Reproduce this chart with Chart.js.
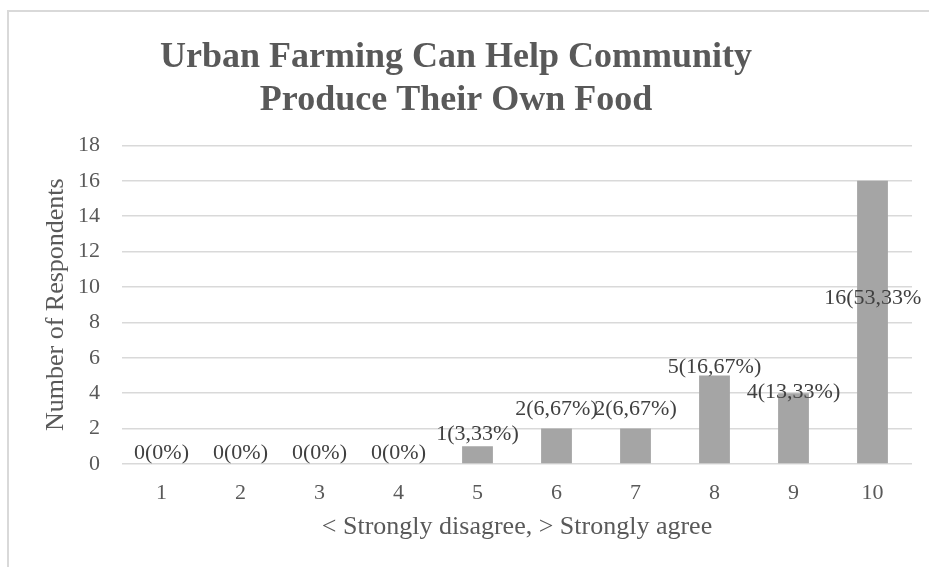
<!DOCTYPE html>
<html>
<head>
<meta charset="utf-8">
<script src="https://cdn.jsdelivr.net/npm/chart.js@4.4.1/dist/chart.umd.min.js"></script>
<style>
  html, body { margin: 0; padding: 0; background: #fff; }
  canvas { display: block; }
</style>
</head>
<body>
<canvas id="mycanvas" width="929" height="567"></canvas>
<script>
// survey scale 1..10 and how many respondents picked each
var scores = ["1", "2", "3", "4", "5", "6", "7", "8", "9", "10"];
var respondents = [0, 0, 0, 0, 1, 2, 2, 5, 4, 16];
var yMax = 18;
var yStep = 2;

var chartTitle = ["Urban Farming Can Help Community", "Produce Their Own Food"];
var xTitle = "< Strongly disagree, > Strongly agree";
var yTitle = "Number of Respondents";

var total = respondents.reduce(function(a, b){ return a + b; }, 0);
function pctText(n){
  if (n === 0) return "0%";
  return (n / total * 100).toFixed(2).replace(".", ",") + "%";
}

var serif = "'Liberation Serif', 'Times New Roman', serif";

// light frame around the chart
var framePlugin = {
  id: 'frame',
  beforeDraw: function(chart){
    var ctx = chart.ctx;
    ctx.save();
    ctx.fillStyle = '#fff';
    ctx.fillRect(0, 0, chart.width, chart.height);
    ctx.strokeStyle = '#d9d9d9';
    ctx.lineWidth = 2;
    ctx.beginPath();
    ctx.moveTo(8, chart.height);
    ctx.lineTo(8, 11);
    ctx.lineTo(chart.width, 11);
    ctx.stroke();
    ctx.restore();
  }
};

// "count(percent)" labels over the bars
var valueLabels = {
  id: 'valueLabels',
  afterDatasetsDraw: function(chart, args, opts){
    var ctx = chart.ctx;
    var meta = chart.getDatasetMeta(0);
    ctx.save();
    ctx.beginPath();
    ctx.rect(0, 0, opts.clipRight, chart.height);
    ctx.clip();
    ctx.font = opts.size + "px " + serif;
    ctx.fillStyle = opts.color;
    ctx.textAlign = 'center';
    ctx.textBaseline = 'middle';
    meta.data.forEach(function(bar, i){
      var n = respondents[i];
      ctx.fillText(n + "(" + pctText(n) + ")", bar.x + opts.shift[i], bar.y - opts.lift[i]);
    });
    ctx.restore();
  }
};

var ctx = document.getElementById('mycanvas');
var chart = new Chart(ctx, {
  type: 'bar',
  data: {
    labels: scores,
    datasets: [{
      label: yTitle,
      data: respondents,
      backgroundColor: '#a5a5a5',
      borderWidth: 0,
      barPercentage: 0.39,
      categoryPercentage: 1
    }]
  },
  options: {
    responsive: false,
    animation: false,
    devicePixelRatio: 1,
    layout: { padding: { left: 0, right: 17, top: 0, bottom: 20 } },
    plugins: {
      legend: { display: false },
      tooltip: { enabled: false },
      title: {
        display: true,
        text: chartTitle,
        color: '#595959',
        font: { family: serif, size: 36, weight: 'bold', lineHeight: 1.2 },
        padding: { top: 36, bottom: 23 }
      },
      valueLabels: {
        size: 22,
        color: '#404040',
        clipRight: 922,
        lift: [11, 11, 11, 11, 12, 19, 19, 8, 1, -117],
        shift: [0, 0, 0, 0, 0, 0, 0, 0, 0, 4]
      }
    },
    scales: {
      x: {
        afterFit: function(scale){ scale.height = 83; },
        grid: { display: false, drawTicks: false },
        border: { display: false },
        ticks: { color: '#595959', font: { family: serif, size: 22 }, padding: 16 },
        title: {
          display: true,
          text: xTitle,
          color: '#595959',
          font: { family: serif, size: 26 },
          padding: { top: 5, bottom: 4 }
        }
      },
      y: {
        min: 0,
        max: yMax,
        afterFit: function(scale){ scale.width = 122; },
        grid: { color: '#d9d9d9', lineWidth: 1.5, drawTicks: false },
        border: { display: false },
        ticks: {
          stepSize: yStep,
          autoSkip: false,
          color: '#595959',
          font: { family: serif, size: 22 },
          padding: 22
        },
        title: {
          display: true,
          text: yTitle,
          color: '#595959',
          font: { family: serif, size: 26 },
          padding: { top: 41, bottom: 0 }
        }
      }
    }
  },
  plugins: [framePlugin, valueLabels]
});
</script>
</body>
</html>
